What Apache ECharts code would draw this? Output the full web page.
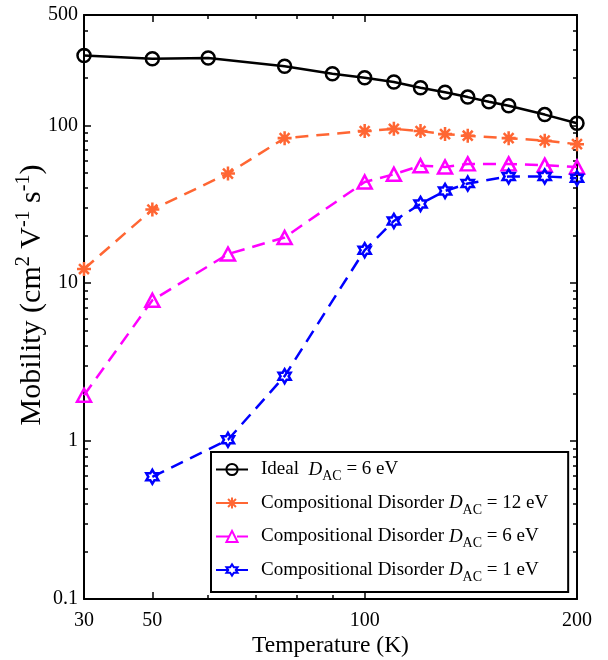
<!DOCTYPE html>
<html><head><meta charset="utf-8">
<script src="https://cdn.jsdelivr.net/npm/echarts@6/dist/echarts.min.js"></script>
<style>html,body{margin:0;padding:0;background:#fff}#c{width:608px;height:660px}</style>
</head><body><div id="c"></div>
<script>
// ---- data ----
const tempIdeal = [30, 50, 60, 77, 90, 100, 110, 120, 130, 140, 150, 160, 180, 200];
const mobIdeal = [277, 264, 267, 237, 212, 200, 188, 173, 162, 151, 141, 133, 117, 103];
const tempDisorder = [30, 50, 64, 77, 100, 110, 120, 130, 140, 160, 180, 200];
const mobDis12 = [12.3, 29.3, 49.5, 83, 92, 95, 92, 88, 86, 83, 80, 76];
const mobDis6 = [1.95, 7.8, 15.3, 19.5, 43.8, 49, 55.5, 54.5, 57, 57, 56, 54.5];
const tempDis1 = [50, 64, 77, 100, 110, 120, 130, 140, 160, 180, 200];
const mobDis1 = [0.594, 1.02, 2.58, 16.2, 24.8, 31.8, 38.4, 42.8, 47.5, 47.5, 46.3];

const legendPrefix = ['Ideal  ', 'Compositional Disorder ', 'Compositional Disorder ', 'Compositional Disorder '];
const legendValue = ['6 eV', '12 eV', '6 eV', '1 eV'];
const seriesNames = ['ideal', 'dis12', 'dis6', 'dis1'];

const xTickLabels = [30, 50, 100, 200];
const xMajorTicks = [30, 50, 100, 200];
const xMinorTicks = [60, 70, 80, 90];
const yTickLabels = [0.1, 1, 10, 100, 500];
const yMajorTicks = [0.1, 1, 10, 100];
const yMinorTicks = [0.2, 0.3, 0.4, 0.5, 0.6, 0.7, 0.8, 0.9, 2, 3, 4, 5, 6, 7, 8, 9, 20, 30, 40, 50, 60, 70, 80, 90, 200, 300, 400];

// ---- styling ----
const FONT = 'Liberation Serif';
const ORANGE = '#ff6633', MAGENTA = '#ff00ff', BLUE = '#0000ff';
const xBreaks = [{ start: 30, end: 40, gap: 0 }];

function pts(poly) { return 'M' + poly.map(p => p[0].toFixed(2) + ' ' + p[1].toFixed(2)).join(' L') + ' Z'; }
function asteriskPath() {
  let d = '';
  for (const a of [0, 45, 90, 135]) {
    const r = a * Math.PI / 180, c = Math.cos(r), s = Math.sin(r), L = 50, T = 9;
    const corners = [[-L, -T], [L, -T], [L, T], [-L, T]].map(([u, v]) => [50 + u * c - v * s, 50 + u * s + v * c]);
    d += pts(corners) + ' ';
  }
  return 'path://' + d;
}
function hexagramPath() {
  const p = [];
  for (let k = 0; k < 12; k++) {
    const ang = (-90 + k * 30) * Math.PI / 180, rr = k % 2 === 0 ? 50 : 50 / Math.sqrt(3);
    p.push([50 + rr * Math.cos(ang), 50 + rr * Math.sin(ang)]);
  }
  return 'path://' + pts(p);
}

function zip(a, b) { return a.map((v, i) => [v, b[i]]); }

function xAxisDef(pos, ticks, len, withLine, withLabels) {
  const ax = {
    type: 'log', logBase: 10, position: pos, min: 30, max: 200, breaks: xBreaks,
    breakArea: { show: false },
    axisLine: { show: withLine, onZero: false, lineStyle: { color: '#000', width: 2 } },
    axisTick: { show: true, inside: true, length: len, customValues: ticks, lineStyle: { color: '#000', width: 1.5 } },
    axisLabel: withLabels ? { show: true, customValues: xTickLabels, margin: 12, fontSize: 20, fontFamily: FONT, color: '#000' } : { show: false },
    splitLine: { show: false }, minorTick: { show: false }, minorSplitLine: { show: false }
  };
  if (withLabels) {
    ax.name = 'Temperature (K)';
    ax.nameLocation = 'middle';
    ax.nameGap = 35;
    ax.nameMoveOverlap = false;
    ax.nameTextStyle = { fontFamily: FONT, fontSize: 23.5, color: '#000' };
  }
  return ax;
}
function yAxisDef(pos, ticks, len, withLine, withLabels) {
  const ax = {
    type: 'log', logBase: 10, position: pos, min: 0.1, max: 500,
    axisLine: { show: withLine, onZero: false, lineStyle: { color: '#000', width: 2 } },
    axisTick: { show: true, inside: true, length: len, customValues: ticks, lineStyle: { color: '#000', width: 1.5 } },
    axisLabel: withLabels ? { show: true, customValues: yTickLabels, margin: 6, fontSize: 20, fontFamily: FONT, color: '#000' } : { show: false },
    splitLine: { show: false }, minorTick: { show: false }, minorSplitLine: { show: false }
  };
  if (withLabels) {
    ax.name = '{t|Mobility (cm}{sup|2}{t| V}{sup|-1}{t| s}{sup|-1}{t|)}';
    ax.nameLocation = 'middle';
    ax.nameGap = 34;
    ax.nameMoveOverlap = false;
    ax.nameRotate = 90;
    ax.nameTextStyle = {
      padding: [0, 0, 0, 24],
      rich: {
        t: { fontFamily: FONT, fontSize: 30, color: '#000', lineHeight: 36, verticalAlign: 'middle' },
        sup: { fontFamily: FONT, fontSize: 20, color: '#000', lineHeight: 10, verticalAlign: 'top' }
      }
    };
  }
  return ax;
}

const lineCommon = { type: 'line', clip: false, showAllSymbol: true, animation: false, emphasis: { disabled: true }, z: 3 };

const option = {
  animation: false,
  backgroundColor: '#fff',
  grid: { left: 84, right: 31, top: 15, bottom: 61, containLabel: false, outerBoundsMode: 'none' },
  xAxis: [
    xAxisDef('bottom', xMajorTicks, 7, true, true),
    xAxisDef('bottom', xMinorTicks, 4, false, false),
    xAxisDef('top', [50, 100], 7, true, false),
    xAxisDef('top', xMinorTicks, 4, false, false)
  ],
  yAxis: [
    yAxisDef('left', yMajorTicks, 7, true, true),
    yAxisDef('left', yMinorTicks, 4, false, false),
    yAxisDef('right', yMajorTicks, 7, true, false),
    yAxisDef('right', yMinorTicks, 4, false, false)
  ],
  legend: {
    orient: 'vertical', left: 211, top: 452,
    backgroundColor: '#fff', borderColor: '#000', borderWidth: 2, borderRadius: 0,
    padding: [8, 20, 8, 4], itemWidth: 32, itemHeight: 14, itemGap: 10,
    data: seriesNames,
    formatter: function (name) {
      const i = seriesNames.indexOf(name);
      return '{p|' + legendPrefix[i] + '}{i|D}{s|AC}{t| = ' + legendValue[i] + '}';
    },
    textStyle: {
      rich: {
        p: { fontFamily: FONT, fontSize: 19, color: '#000', lineHeight: 28, verticalAlign: 'middle', padding: [0, 0, 0, 8] },
        t: { fontFamily: FONT, fontSize: 19, color: '#000', lineHeight: 28, verticalAlign: 'middle' },
        i: { fontFamily: FONT, fontSize: 19, fontStyle: 'italic', color: '#000', lineHeight: 28, verticalAlign: 'middle' },
        s: { fontFamily: FONT, fontSize: 14, color: '#000', lineHeight: 8, verticalAlign: 'bottom' }
      }
    }
  },
  series: [
    Object.assign({}, lineCommon, {
      name: 'ideal', data: zip(tempIdeal, mobIdeal), symbol: 'circle', symbolSize: 13,
      itemStyle: { color: 'rgba(255,255,255,0)', borderColor: '#000', borderWidth: 2.5 },
      lineStyle: { color: '#000', width: 2.5, type: 'solid' }
    }),
    Object.assign({}, lineCommon, {
      name: 'dis12', data: zip(tempDisorder, mobDis12), symbol: asteriskPath(), symbolSize: 14,
      itemStyle: { color: ORANGE, borderWidth: 0 },
      lineStyle: { color: ORANGE, width: 2.5, type: [13, 8] }
    }),
    Object.assign({}, lineCommon, {
      name: 'dis6', data: zip(tempDisorder, mobDis6), symbol: 'triangle', symbolSize: [14, 13],
      itemStyle: { color: 'rgba(255,255,255,0)', borderColor: MAGENTA, borderWidth: 2.5 },
      lineStyle: { color: MAGENTA, width: 2.5, type: [13, 8] }
    }),
    Object.assign({}, lineCommon, {
      name: 'dis1', data: zip(tempDis1, mobDis1), symbol: hexagramPath(), symbolSize: 14, symbolKeepAspect: true,
      itemStyle: { color: 'rgba(255,255,255,0)', borderColor: BLUE, borderWidth: 2.5 },
      lineStyle: { color: BLUE, width: 2.5, type: [13, 8] }
    })
  ]
};

const chart = echarts.init(document.getElementById('c'), null, { renderer: 'canvas' });
chart.setOption(option);
</script>
</body></html>
